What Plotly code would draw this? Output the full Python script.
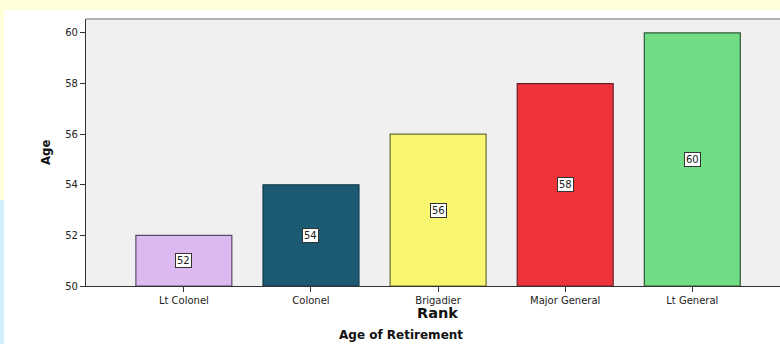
import plotly.graph_objects as go

ranks = ["Lt Colonel", "Colonel", "Brigadier", "Major General", "Lt General"]
ages = [52, 54, 56, 58, 60]
fill_colors = ["#DDB9F2", "#1B5A72", "#F9F770", "#EF333B", "#70DC83"]
line_colors = ["#5A4A66", "#123A4A", "#6B6A30", "#6A2024", "#2F5A36"]
y_ticks = [50, 52, 54, 56, 58, 60]
base = 50

W, H = 780, 344
L, R, T, B = 86, 0, 19, 58
pw, ph = W - L - R, H - T - B

def px_x(x):
    return (x - L) / pw

def px_y(y):
    return (H - B - y) / ph

fig = go.Figure()
fig.add_trace(go.Bar(
    x=list(range(len(ranks))),
    y=[a - base for a in ages],
    base=base,
    width=0.755,
    marker=dict(color=fill_colors, line=dict(color=line_colors, width=1.2)),
    hoverinfo="skip",
))

annotations = []
for i, a in enumerate(ages):
    annotations.append(dict(
        x=i, y=(base + a) / 2, xref="x", yref="y", text=str(a), showarrow=False,
        font=dict(family="DejaVu Sans", size=10, color="#222"),
        bgcolor="white", bordercolor="#333", borderwidth=1, borderpad=1,
    ))
annotations += [
    dict(x=px_x(45), y=px_y(153), xref="paper", yref="paper", text="<b>Age</b>",
         textangle=-90, showarrow=False, xanchor="center", yanchor="middle",
         font=dict(family="DejaVu Sans Condensed, Liberation Sans Narrow, Liberation Sans", size=13, color="#111")),
    dict(x=px_x(437), y=px_y(313), xref="paper", yref="paper", text="<b>Rank</b>",
         showarrow=False, xanchor="center", yanchor="middle",
         font=dict(family="DejaVu Sans", size=14.5, color="#111")),
    dict(x=px_x(401), y=px_y(335), xref="paper", yref="paper", text="<b>Age of Retirement</b>",
         showarrow=False, xanchor="center", yanchor="middle",
         font=dict(family="DejaVu Sans", size=12, color="#111")),
]

shapes = [
    dict(type="rect", xref="paper", yref="paper", x0=px_x(0), x1=px_x(W), y0=px_y(10), y1=px_y(0),
         fillcolor="#FFFFD9", line=dict(width=0), layer="below"),
    dict(type="rect", xref="paper", yref="paper", x0=px_x(0), x1=px_x(4), y0=px_y(200), y1=px_y(10),
         fillcolor="#FFFFD9", line=dict(width=0), layer="below"),
    dict(type="rect", xref="paper", yref="paper", x0=px_x(0), x1=px_x(4), y0=px_y(H), y1=px_y(200),
         fillcolor="#D2F0FC", line=dict(width=0), layer="below"),
    dict(type="line", xref="paper", yref="paper", x0=0, x1=1, y0=1, y1=1,
         line=dict(color="#9A9A9A", width=1.5)),
]

fig.update_layout(
    width=W, height=H,
    margin=dict(l=L, r=R, t=T, b=B),
    paper_bgcolor="white",
    plot_bgcolor="#F0F0F0",
    showlegend=False,
    annotations=annotations,
    shapes=shapes,
    xaxis=dict(
        range=[-0.77, 4.69],
        tickmode="array", tickvals=list(range(len(ranks))), ticktext=ranks,
        ticks="outside", ticklen=5, tickcolor="#333", tickwidth=1.2,
        showline=True, linecolor="#333", linewidth=1.2,
        showgrid=False, zeroline=False,
        tickfont=dict(family="DejaVu Sans", size=10, color="#222"),
    ),
    yaxis=dict(
        range=[50, 60.55],
        tickmode="array", tickvals=y_ticks,
        ticks="outside", ticklen=5, tickcolor="#333", tickwidth=1.2,
        showline=True, linecolor="#333", linewidth=1.2,
        showgrid=False, zeroline=False,
        tickfont=dict(family="DejaVu Sans", size=10, color="#222"),
    ),
)

fig.write_html(
    "out.html",
    config={"displayModeBar": False},
    post_script="document.body.style.margin='0';document.body.style.padding='0';document.body.style.overflow='hidden';",
)
